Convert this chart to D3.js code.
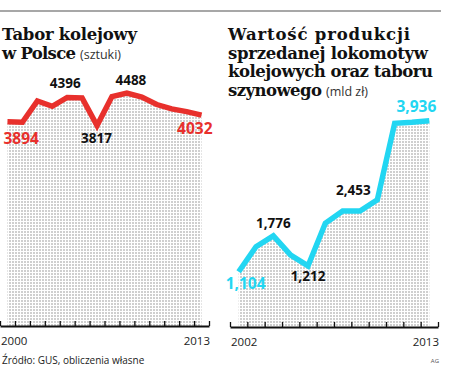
<!DOCTYPE html>
<html>
<head>
<meta charset="utf-8">
<script src="https://cdn.jsdelivr.net/npm/d3@7"></script>
<style>
  body { margin: 0; background: #fff; }
  svg { display: block; }
</style>
</head>
<body>
<svg id="chart" width="450" height="386"></svg>
<script>
// tabor kolejowy (sztuki)
const yearsLeft = d3.range(2000, 2014);
const taborValues = [3894, 3885, 4324, 4214, 4396, 4388, 3817, 4415, 4488, 4405, 4250, 4160, 4104, 4032];
const taborLabelled = [2000, 2004, 2006, 2008, 2013];

// wartosc produkcji (mld zl)
const yearsRight = d3.range(2002, 2014);
const produkcjaValues = [1.104, 1.573, 1.776, 1.417, 1.212, 2.012, 2.242, 2.242, 2.453, 3.887, 3.905, 3.936];
const produkcjaLabelled = [2002, 2004, 2006, 2010, 2013];

const titleLeft = ["Tabor kolejowy", "w Polsce"];
const titleRight = ["Wartość produkcji", "sprzedanej lokomotyw", "kolejowych oraz taboru", "szynowego"];

const RED = "#e8302c";
const CYAN = "#22d6f2";

const svg = d3.select("#chart");

// dotted fill
const defs = svg.append("defs");
const pat = defs.append("pattern")
    .attr("id", "dots")
    .attr("width", 3)
    .attr("height", 3)
    .attr("patternUnits", "userSpaceOnUse");
pat.append("rect").attr("width", 2).attr("height", 2).attr("fill", "#cfcfcf");

// top rule
svg.append("line")
    .attr("x1", 0).attr("x2", 441)
    .attr("y1", 11).attr("y2", 11)
    .attr("stroke", "#8a8a8a")
    .attr("stroke-width", 1.5);

// titles
const serif = "'DejaVu Serif', serif";
const sans = "'Open Sans', sans-serif";

// widths the title lines take in the original layout
function title(x, lines, widths, note) {
    lines.forEach((l, i) => {
        const t = svg.append("text")
            .attr("x", x)
            .attr("y", 40 + i * 18.5)
            .attr("textLength", widths[i])
            .attr("lengthAdjust", "spacing")
            .style("font-family", serif)
            .style("font-weight", "bold")
            .style("font-size", "16.5px")
            .attr("fill", "#111")
            .text(l);
        if (i === lines.length - 1) {
            svg.append("text")
                .attr("x", x + widths[i] + 4)
                .attr("y", 40 + i * 18.5)
                .style("font-family", sans)
                .style("font-size", "12.5px")
                .attr("fill", "#333")
                .text(note);
        }
    });
}
title(2, titleLeft, [135, 74], "(sztuki)");
title(228, titleRight, [182, 200, 205, 94], "(mld zł)");

function panel(cfg) {
    const x = d3.scaleLinear()
        .domain([cfg.years[0] - 0.5, cfg.years[cfg.years.length - 1] + 0.5])
        .range(cfg.xRange);
    const y = d3.scaleLinear()
        .domain(d3.extent(cfg.values))
        .range(cfg.yRange);
    const data = cfg.years.map((yr, i) => ({ year: yr, value: cfg.values[i] }));

    const area = d3.area()
        .x(d => x(d.year))
        .y0(cfg.base)
        .y1(d => y(d.value));
    svg.append("path")
        .datum(data)
        .attr("fill", "url(#dots)")
        .attr("d", area);

    const line = d3.line()
        .x(d => x(d.year))
        .y(d => y(d.value));
    svg.append("path")
        .datum(data)
        .attr("fill", "none")
        .attr("stroke", cfg.color)
        .attr("stroke-width", 5.5)
        .attr("stroke-linejoin", "miter")
        .attr("d", line);

    // axis with inward ticks on year boundaries
    const tickVals = d3.range(cfg.years[0] - 0.5, cfg.years[cfg.years.length - 1] + 1, 1);
    const ax = svg.append("g")
        .attr("transform", `translate(0,${cfg.base})`)
        .call(d3.axisBottom(x)
            .tickValues(tickVals)
            .tickSize(-5)
            .tickSizeOuter(0)
            .tickFormat(""));
    ax.select(".domain").attr("stroke", "#111").attr("stroke-width", 2);
    ax.selectAll(".tick line").attr("stroke", "#111").attr("stroke-width", 1.3);

    // end years
    const first = cfg.years[0], last = cfg.years[cfg.years.length - 1];
    [[first, "start", cfg.xRange[0] + 1], [last, "end", cfg.xRange[1] + 1]].forEach(([yr, anchor, px]) => {
        svg.append("text")
            .attr("x", px)
            .attr("y", cfg.base + 19)
            .attr("text-anchor", anchor)
            .style("font-family", sans)
            .style("font-size", "11.5px")
            .attr("fill", "#222")
            .text(yr);
    });

    // value labels
    cfg.labelled.forEach(yr => {
        const i = cfg.years.indexOf(yr);
        const v = cfg.values[i];
        const o = cfg.offsets[yr];
        const endPoint = (i === 0 || i === cfg.years.length - 1);
        svg.append("text")
            .attr("x", x(yr) + o[0])
            .attr("y", y(v) + o[1])
            .attr("text-anchor", o[2])
            .style("font-family", sans)
            .style("font-weight", "bold")
            .style("font-size", endPoint ? "15.5px" : "13.5px")
            .attr("fill", endPoint ? cfg.color : "#111")
            .text(cfg.format(v));
    });
}

panel({
    years: yearsLeft,
    values: taborValues,
    labelled: taborLabelled,
    color: RED,
    xRange: [0, 209],
    yRange: [125.5, 93],
    base: 326,
    format: d3.format("d"),
    offsets: {
        2000: [-4, 22, "start"],
        2004: [-2, -9, "middle"],
        2006: [-0.5, 17, "middle"],
        2008: [4, -8, "middle"],
        2013: [11, 19, "end"]
    }
});

panel({
    years: yearsRight,
    values: produkcjaValues,
    labelled: produkcjaLabelled,
    color: CYAN,
    xRange: [230, 438],
    yRange: [271.7, 120.7],
    base: 327,
    format: v => d3.format(",.3f")(v).replace(".", ","),
    offsets: {
        2002: [-13, 17, "start"],
        2004: [0, -8, "middle"],
        2006: [0, 15, "middle"],
        2010: [-24, -5, "middle"],
        2013: [7, -9, "end"]
    }
});

// source & credit
svg.append("text")
    .attr("x", 2)
    .attr("y", 364)
    .style("font-family", sans)
    .style("font-size", "10px")
    .attr("fill", "#222")
    .text("Źródło: GUS, obliczenia własne");

svg.append("text")
    .attr("x", 439)
    .attr("y", 363)
    .attr("text-anchor", "end")
    .style("font-family", sans)
    .style("font-size", "6px")
    .attr("fill", "#555")
    .text("AG");
</script>
</body>
</html>
